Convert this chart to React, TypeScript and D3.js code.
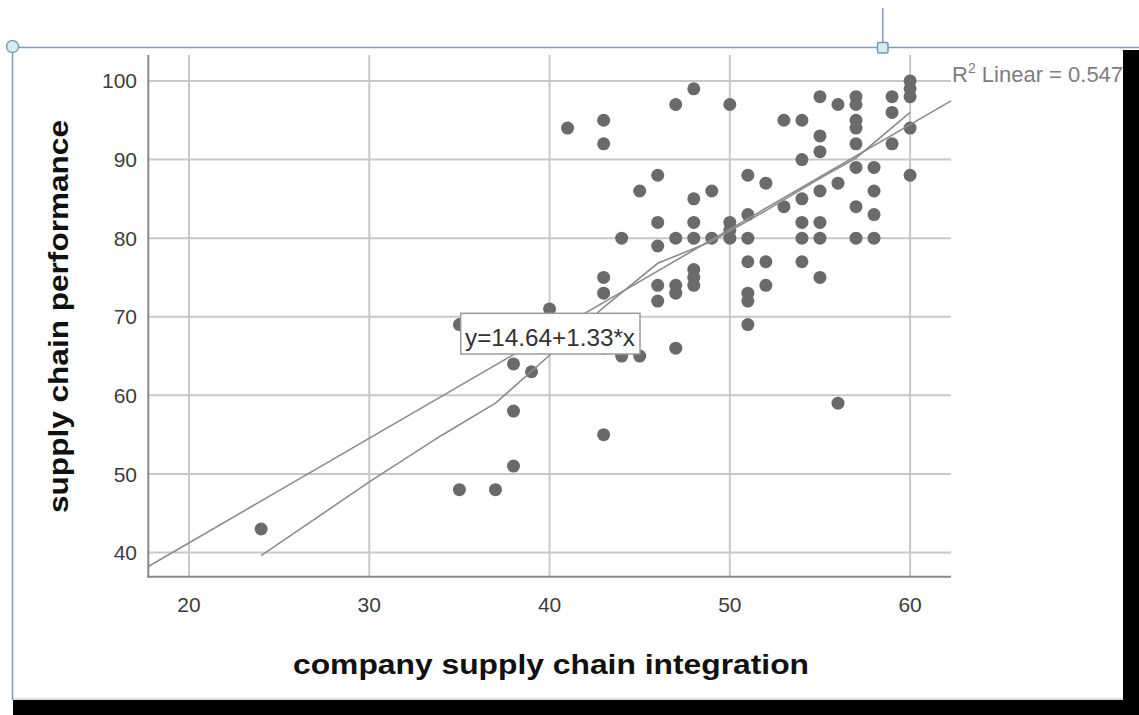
import React from "react";
import * as d3 from "d3";

const integration = [24,35,35,37,38,38,38,39,40,41,43,43,43,43,43,43,44,44,45,45,46,46,46,46,46,47,47,47,47,47,48,48,48,48,48,48,48,49,49,50,50,50,50,51,51,51,51,51,51,51,52,52,52,53,53,54,54,54,54,54,54,55,55,55,55,55,55,55,56,56,56,57,57,57,57,57,57,57,57,58,58,58,58,59,59,59,60,60,60,60,60];
const performance = [43,48,69,48,64,58,51,63,71,94,95,92,75,73,55,66,80,65,86,65,88,82,79,74,72,97,80,74,73,66,99,85,82,80,76,75,74,86,80,97,82,81,80,88,83,80,77,73,72,69,87,77,74,95,84,95,90,85,82,80,77,98,93,91,86,82,80,75,97,87,59,98,97,95,94,92,89,84,80,89,86,83,80,98,96,92,100,99,98,94,88];

const loessX = [24,30,34,37,40,43,46,49,52,55,57,60];
const loessY = [39.6,49,54.9,59,65.1,71.2,76.8,79.6,83.5,87.6,90.2,96];

const xTicks = [20,30,40,50,60];
const yTicks = [40,50,60,70,80,90,100];
const intercept = 14.64;
const slope = 1.33;
const equationLabel = "y=14.64+1.33*x";
const r2Value = "0.547";
const xTitle = "company supply chain integration";
const yTitle = "supply chain performance";

export default function App() {
  const W = 1139, H = 715;
  const x = d3.scaleLinear().domain([17.74, 62.27]).range([148.3, 951]);
  const y = d3.scaleLinear().domain([36.93, 103.3]).range([576.7, 55]);
  const [x0, x1] = x.domain();
  const fitLine = d3.line<number>().x(d => x(d)).y(d => y(intercept + slope * d));
  const loess = d3.line<number>().x(d => x(d)).y((d, i) => y(loessY[i]));
  const font = "Liberation Sans, Arial, sans-serif";
  const blue = "#7b9cc0";
  const handleFill = "#d4eef2";
  return (
    <svg width={W} height={H} style={{ position: "absolute", left: 0, top: 0, background: "#fff" }} fontFamily={font}>
      <rect x={0} y={0} width={W} height={H} fill="#fff" />
      {/* frame */}
      <line x1={12} y1={47.5} x2={W} y2={47.5} stroke={blue} strokeWidth={1.5} />
      <line x1={12.5} y1={52} x2={12.5} y2={700} stroke={blue} strokeWidth={1.5} />
      <line x1={882.7} y1={8} x2={882.7} y2={42} stroke={blue} strokeWidth={1.5} />
      <rect x={1123} y={50} width={16} height={H - 50} fill="#000" />
      <rect x={13} y={700} width={W - 13} height={15} fill="#000" />
      <line x1={13} y1={699} x2={1123} y2={699} stroke="#bbb" strokeWidth={1} />
      {/* grid */}
      {xTicks.map(t => (
        <line key={"gx" + t} x1={x(t)} x2={x(t)} y1={55} y2={576.7} stroke="#c8c8c8" strokeWidth={2} />
      ))}
      {yTicks.map(t => (
        <line key={"gy" + t} x1={148.3} x2={951} y1={y(t)} y2={y(t)} stroke="#c8c8c8" strokeWidth={2} />
      ))}
      {/* axes */}
      <line x1={148.3} x2={148.3} y1={55} y2={577.5} stroke="#888" strokeWidth={2} />
      <line x1={147.3} x2={951} y1={576.7} y2={576.7} stroke="#888" strokeWidth={2} />
      {yTicks.map(t => (
        <text key={"ty" + t} x={137} y={y(t)} dy="0.36em" textAnchor="end" fontSize={21} fill="#3d3d3d">{t}</text>
      ))}
      {xTicks.map(t => (
        <text key={"tx" + t} x={x(t)} y={612} textAnchor="middle" fontSize={21} fill="#3d3d3d">{t}</text>
      ))}
      {/* points */}
      {integration.map((v, i) => (
        <circle key={"p" + i} cx={x(v)} cy={y(performance[i])} r={6.5} fill="#6a6a6a" />
      ))}
      {/* lines */}
      <path d={fitLine([x0, x1]) || ""} fill="none" stroke="#8c8c8c" strokeWidth={1.6} />
      <path d={loess(loessX) || ""} fill="none" stroke="#8c8c8c" strokeWidth={1.6} />
      {/* labels */}
      <text x={952} y={82} fontSize={22} fill="#7d7d7d">
        R<tspan fontSize={14} dy={-9}>2</tspan><tspan dy={9}>{" Linear = " + r2Value}</tspan>
      </text>
      <rect x={460.7} y={313.3} width={179.3} height={40.7} fill="#fff" stroke="#9a9a9a" strokeWidth={1.5} />
      <text x={465} y={346} fontSize={24} fill="#333" textLength={170} lengthAdjust="spacingAndGlyphs">{equationLabel}</text>
      <text x={293} y={674} fontSize={28} fontWeight="bold" fill="#111" textLength={516} lengthAdjust="spacingAndGlyphs">{xTitle}</text>
      <text transform="translate(68,513) rotate(-90)" x={0} y={0} fontSize={28} fontWeight="bold" fill="#111" textLength={393} lengthAdjust="spacingAndGlyphs">{yTitle}</text>
      {/* handles */}
      <circle cx={12.5} cy={46.5} r={6} fill={handleFill} stroke="#7f9fb8" strokeWidth={1.5} />
      <rect x={877.5} y={42.5} width={10.5} height={10.5} rx={1.5} fill={handleFill} stroke="#6f98c0" strokeWidth={1.5} />
    </svg>
  );
}
